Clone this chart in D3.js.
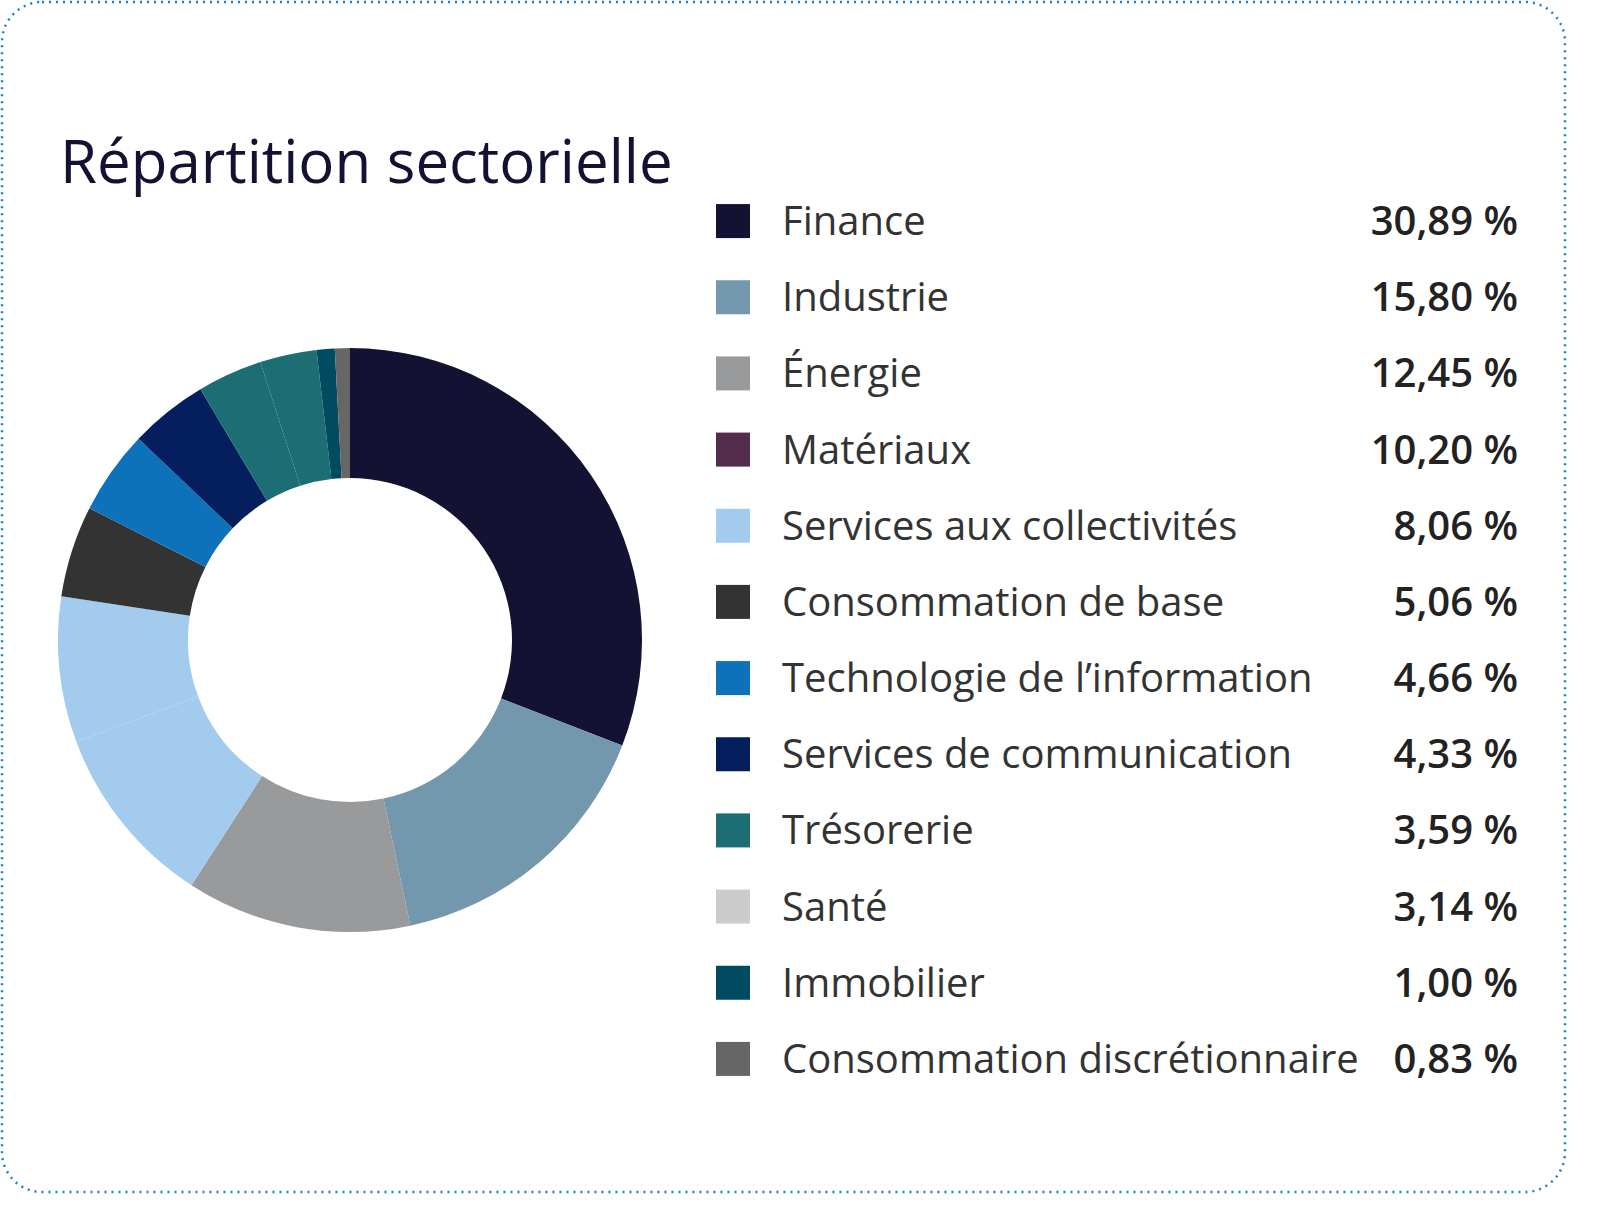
<!DOCTYPE html>
<html><head><meta charset="utf-8">
<script src="https://cdn.jsdelivr.net/npm/d3@7"></script>
<style>body{margin:0;background:#fff}</style>
</head><body>
<script>
var sectors = ["Finance","Industrie","Énergie","Matériaux","Services aux collectivités","Consommation de base","Technologie de l’information","Services de communication","Trésorerie","Santé","Immobilier","Consommation discrétionnaire"];
var values = [30.89,15.80,12.45,10.20,8.06,5.06,4.66,4.33,3.59,3.14,1.00,0.83];
var legendColors = ["#131233","#7397ad","#999a9c","#522c4a","#a3cbee","#333333","#0e72bb","#051f5e","#1d6e74","#cccccc","#004b60","#666666"];
// colours the ring actually shows
var sliceColors = ["#131233","#7397ad","#999a9c","#a3cbee","#a3cbee","#333333","#0e72bb","#051f5e","#1d6e74","#1d6e74","#004b60","#666666"];

var W = 1597, H = 1217;
var svg = d3.select("body").append("svg").attr("width", W).attr("height", H);

svg.append("rect").attr("x", 2).attr("y", 2).attr("width", 1563).attr("height", 1190)
  .attr("rx", 40).attr("fill", "none").attr("stroke", "#1b80c4")
  .attr("stroke-width", 2.5).attr("stroke-dasharray", "2,5");

svg.append("text").attr("x", 60).attr("y", 183).text("Répartition sectorielle")
  .attr("font-family", "Open Sans").attr("font-size", 60).attr("fill", "#131233");

var pie = d3.pie().sort(null).value(function(d){ return d; });
var arc = d3.arc().innerRadius(162).outerRadius(292);
svg.append("g").attr("transform", "translate(350,640)")
  .selectAll("path").data(pie(values)).enter().append("path")
  .attr("d", arc).attr("fill", function(d, i){ return sliceColors[i]; });

var y = d3.scaleBand().domain(sectors).range([183, 1097]);
var lg = svg.append("g").selectAll("g").data(sectors).enter().append("g")
  .attr("transform", function(d){ return "translate(0," + (y(d) + y.bandwidth()/2) + ")"; });
lg.append("rect").attr("x", 716).attr("y", -17).attr("width", 34).attr("height", 34)
  .attr("fill", function(d, i){ return legendColors[i]; });
lg.append("text").attr("x", 782).attr("dy", "0.35em").text(function(d){ return d; })
  .attr("font-family", "Open Sans").attr("font-size", 40).attr("fill", "#333");
lg.append("text").attr("x", 1518).attr("dy", "0.35em").attr("text-anchor", "end")
  .text(function(d, i){ return values[i].toFixed(2).replace(".", ",") + " %"; })
  .attr("font-family", "Open Sans").attr("font-weight", 600).attr("font-size", 40).attr("fill", "#222");
</script>
</body></html>
